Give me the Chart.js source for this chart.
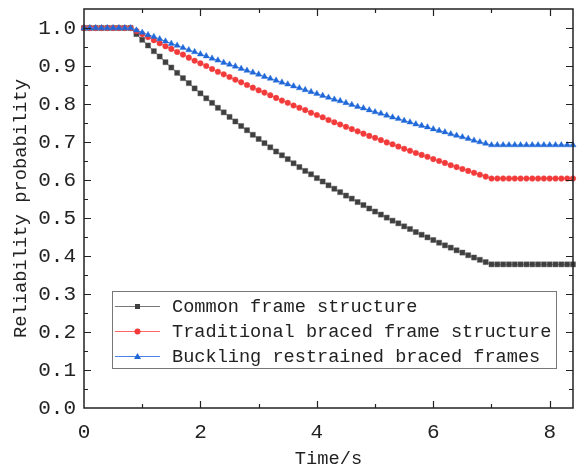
<!DOCTYPE html>
<html>
<head>
<meta charset="utf-8">
<script src="https://cdn.jsdelivr.net/npm/chart.js@4.4.1/dist/chart.umd.min.js"></script>
<style>
html, body { margin: 0; padding: 0; background: #fff; }
</style>
</head>
<body>
<canvas id="reliability_chart" width="578" height="465"></canvas>
<script>
var timeSec = [
	0, 0.1, 0.2, 0.3, 0.4, 0.5, 0.6, 0.7, 0.8, 0.9,
	1.0, 1.1, 1.2, 1.3, 1.4, 1.5, 1.6, 1.7, 1.8, 1.9,
	2.0, 2.1, 2.2, 2.3, 2.4, 2.5, 2.6, 2.7, 2.8, 2.9,
	3.0, 3.1, 3.2, 3.3, 3.4, 3.5, 3.6, 3.7, 3.8, 3.9,
	4.0, 4.1, 4.2, 4.3, 4.4, 4.5, 4.6, 4.7, 4.8, 4.9,
	5.0, 5.1, 5.2, 5.3, 5.4, 5.5, 5.6, 5.7, 5.8, 5.9,
	6.0, 6.1, 6.2, 6.3, 6.4, 6.5, 6.6, 6.7, 6.8, 6.9,
	7.0, 7.1, 7.2, 7.3, 7.4, 7.5, 7.6, 7.7, 7.8, 7.9,
	8.0, 8.1, 8.2, 8.3, 8.4
];

var commonFrame = [
	1, 1, 1, 1, 1, 1, 1, 1, 1, 0.984,
	0.969, 0.954, 0.939, 0.925, 0.910, 0.896, 0.882, 0.868, 0.855, 0.841,
	0.828, 0.815, 0.803, 0.790, 0.778, 0.766, 0.754, 0.742, 0.731, 0.719,
	0.708, 0.697, 0.686, 0.675, 0.665, 0.655, 0.644, 0.634, 0.624, 0.615,
	0.605, 0.596, 0.586, 0.577, 0.568, 0.559, 0.551, 0.542, 0.534, 0.525,
	0.517, 0.509, 0.501, 0.493, 0.486, 0.478, 0.471, 0.463, 0.456, 0.449,
	0.442, 0.435, 0.428, 0.422, 0.415, 0.409, 0.402, 0.396, 0.390, 0.384,
	0.378, 0.378, 0.378, 0.378, 0.378, 0.378, 0.378, 0.378, 0.378, 0.378,
	0.378, 0.378, 0.378, 0.378, 0.378
];

var traditionalBraced = [
	1, 1, 1, 1, 1, 1, 1, 1, 1, 0.992,
	0.984, 0.976, 0.968, 0.960, 0.952, 0.945, 0.937, 0.930, 0.922, 0.914,
	0.907, 0.900, 0.892, 0.885, 0.878, 0.871, 0.864, 0.857, 0.850, 0.843,
	0.836, 0.830, 0.823, 0.816, 0.809, 0.803, 0.796, 0.790, 0.784, 0.777,
	0.771, 0.765, 0.758, 0.752, 0.746, 0.740, 0.734, 0.728, 0.722, 0.716,
	0.711, 0.705, 0.699, 0.694, 0.688, 0.682, 0.677, 0.671, 0.666, 0.661,
	0.655, 0.650, 0.645, 0.639, 0.634, 0.629, 0.624, 0.619, 0.614, 0.609,
	0.604, 0.604, 0.604, 0.604, 0.604, 0.604, 0.604, 0.604, 0.604, 0.604,
	0.604, 0.604, 0.604, 0.604, 0.604
];

var bucklingBraced = [
	1, 1, 1, 1, 1, 1, 1, 1, 1, 0.994,
	0.988, 0.982, 0.977, 0.971, 0.965, 0.959, 0.954, 0.948, 0.942, 0.937,
	0.931, 0.926, 0.920, 0.915, 0.909, 0.904, 0.899, 0.893, 0.888, 0.883,
	0.878, 0.872, 0.867, 0.862, 0.857, 0.852, 0.847, 0.842, 0.837, 0.832,
	0.827, 0.822, 0.817, 0.812, 0.808, 0.803, 0.798, 0.793, 0.789, 0.784,
	0.779, 0.775, 0.770, 0.765, 0.761, 0.756, 0.752, 0.747, 0.743, 0.739,
	0.734, 0.730, 0.726, 0.721, 0.717, 0.713, 0.709, 0.704, 0.700, 0.696,
	0.692, 0.692, 0.692, 0.692, 0.692, 0.692, 0.692, 0.692, 0.692, 0.692,
	0.692, 0.692, 0.692, 0.692, 0.692
];

var seriesLabels = ['Common frame structure', 'Traditional braced frame structure', 'Buckling restrained braced frames'];
var xTitle = 'Time/s';
var yTitle = 'Reliability probability';

function toPoints(vals) {
	var out = [];
	for (var i = 0; i < vals.length; i++) {
		out.push({x: timeSec[i], y: vals[i]});
	}
	return out;
}

// box frame with inward ticks on all four sides
var frameTicks = {
	id: 'frameTicks',
	afterDatasetsDraw: function(chart) {
		var ctx = chart.ctx, a = chart.chartArea;
		var xs = chart.scales.x, ys = chart.scales.y;
		ctx.save();
		ctx.strokeStyle = '#222';
		ctx.lineWidth = 1.5;
		ctx.strokeRect(a.left, a.top, a.right - a.left, a.bottom - a.top);
		ctx.lineWidth = 1.2;
		ctx.beginPath();
		for (var i = 1; i <= 8; i++) {
			var px = Math.round(xs.getPixelForValue(i)) + 0.5;
			var len = (i % 2 == 0) ? 7 : 4;
			ctx.moveTo(px, a.bottom); ctx.lineTo(px, a.bottom - len);
			ctx.moveTo(px, a.top); ctx.lineTo(px, a.top + len);
		}
		for (var j = 1; j <= 20; j++) {
			var py = Math.round(ys.getPixelForValue(j * 0.05)) + 0.5;
			var ylen = (j % 2 == 0) ? 7 : 4;
			ctx.moveTo(a.left, py); ctx.lineTo(a.left + ylen, py);
			ctx.moveTo(a.right, py); ctx.lineTo(a.right - ylen, py);
		}
		ctx.stroke();
		ctx.restore();
	}
};

function drawMarker(ctx, style, x, y, color) {
	ctx.fillStyle = color;
	ctx.beginPath();
	if (style == 'rect') {
		ctx.rect(x - 2.5, y - 2.5, 5, 5);
	} else if (style == 'circle') {
		ctx.arc(x, y, 3, 0, Math.PI * 2);
	} else {
		ctx.moveTo(x, y - 3.5); ctx.lineTo(x + 3.5, y + 2.5); ctx.lineTo(x - 3.5, y + 2.5); ctx.closePath();
	}
	ctx.fill();
}

var boxLegend = {
	id: 'boxLegend',
	afterDraw: function(chart) {
		var ctx = chart.ctx;
		var ds = chart.data.datasets;
		ctx.save();
		ctx.fillStyle = '#fff';
		ctx.fillRect(112, 291, 445, 78);
		ctx.strokeStyle = '#777';
		ctx.lineWidth = 1;
		ctx.strokeRect(112.5, 291.5, 444, 77);
		ctx.font = '18.6px "Liberation Mono", monospace';
		ctx.textBaseline = 'middle';
		for (var i = 0; i < ds.length; i++) {
			var y = 306 + i * 25;
			ctx.strokeStyle = ds[i].borderColor;
			ctx.beginPath();
			ctx.moveTo(115, y + 0.5); ctx.lineTo(160, y + 0.5);
			ctx.stroke();
			drawMarker(ctx, ds[i].pointStyle, 137.5, y + 0.5, ds[i].pointBackgroundColor);
			ctx.fillStyle = '#222';
			ctx.fillText(ds[i].label, 172, y + 1);
		}
		ctx.restore();
	}
};

var ctx = document.getElementById('reliability_chart').getContext('2d');
var chart = new Chart(ctx, {
	type: 'line',
	data: {
		datasets: [{
			label: seriesLabels[0],
			data: toPoints(commonFrame),
			borderColor: '#777',
			borderWidth: 1,
			pointStyle: 'rect',
			pointRadius: 3.6,
			pointBackgroundColor: '#3f3f3f',
			pointBorderColor: 'rgba(90,90,90,0.45)',
			pointBorderWidth: 1,
			order: 2
		}, {
			label: seriesLabels[1],
			data: toPoints(traditionalBraced),
			borderColor: '#f66',
			borderWidth: 1,
			pointStyle: 'circle',
			pointRadius: 2.8,
			pointBackgroundColor: '#f23a3a',
			pointBorderColor: 'rgba(242,70,70,0.45)',
			pointBorderWidth: 1,
			order: 1
		}, {
			label: seriesLabels[2],
			data: toPoints(bucklingBraced),
			borderColor: '#4a82e8',
			borderWidth: 1,
			pointStyle: 'triangle',
			pointRadius: 3.6,
			pointBackgroundColor: '#1f68d8',
			pointBorderColor: 'rgba(40,110,220,0.4)',
			pointBorderWidth: 1,
			order: 0
		}]
	},
	options: {
		responsive: false,
		animation: false,
		clip: 5,
		layout: {
			padding: { top: 9, right: 1, left: 0, bottom: 0 }
		},
		plugins: {
			legend: { display: false },
			tooltip: { enabled: false }
		},
		scales: {
			x: {
				type: 'linear',
				min: 0,
				max: 8.4,
				grid: { display: false, drawTicks: false },
				border: { display: false },
				ticks: {
					stepSize: 2,
					includeBounds: false,
					padding: 12,
					maxRotation: 0,
					color: '#222',
					font: { family: '"Liberation Mono", monospace', size: 21 },
					callback: function(v) { return v % 2 == 0 ? String(v) : ''; }
				},
				title: {
					display: true,
					text: xTitle,
					color: '#222',
					font: { family: '"Liberation Mono", monospace', size: 18.7, lineHeight: 0.6 },
					padding: 0
				},
				afterFit: function(s) {
					s.height = 57;
					s.paddingLeft = 0;
					s.paddingRight = 0;
				}
			},
			y: {
				min: 0,
				max: 1.05,
				grid: { display: false, drawTicks: false },
				border: { display: false },
				ticks: {
					stepSize: 0.1,
					includeBounds: false,
					padding: 8,
					color: '#222',
					font: { family: '"Liberation Mono", monospace', size: 21 },
					callback: function(v) { return v.toFixed(1); }
				},
				title: {
					display: true,
					text: yTitle,
					color: '#222',
					font: { family: '"Liberation Mono", monospace', size: 18.8, lineHeight: 2.2 },
					padding: 0
				},
				afterFit: function(s) {
					s.width = 84;
					s.paddingTop = 0;
					s.paddingBottom = 0;
				}
			}
		}
	},
	plugins: [frameTicks, boxLegend]
});
</script>
</body>
</html>
